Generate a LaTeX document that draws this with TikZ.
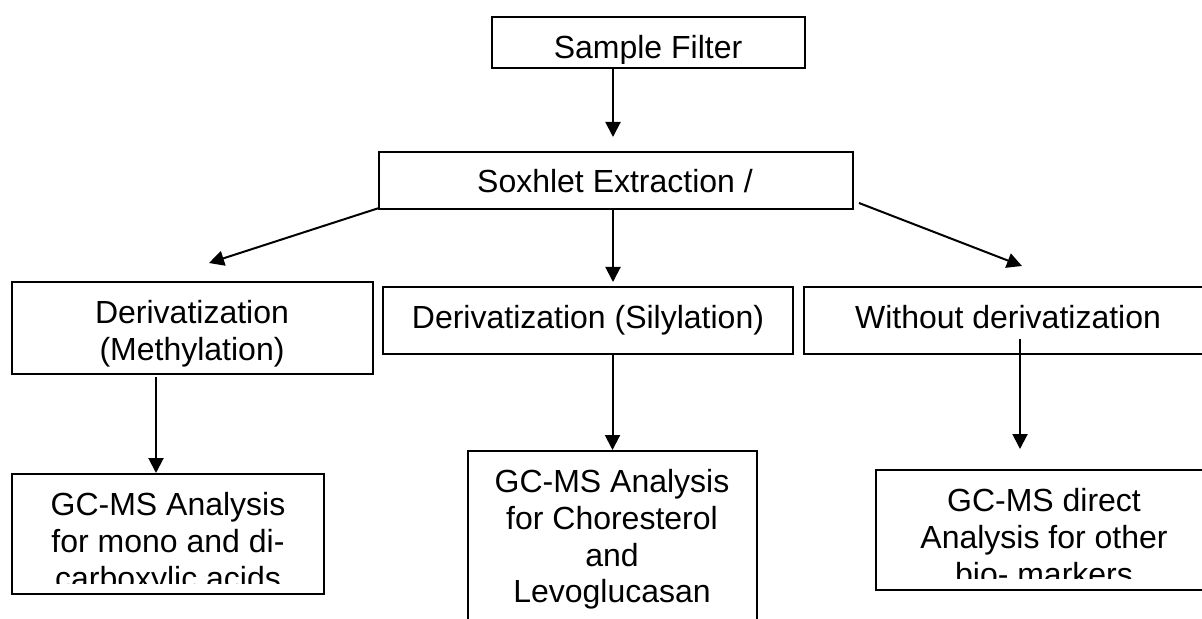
\documentclass[tikz,border=0pt]{standalone}
\usepackage{fontspec}
\setmainfont{Liberation Sans}
\usetikzlibrary{arrows.meta,positioning}
\newcommand\boxfont{\fontsize{16}{18.4}\selectfont}
\tikzstyle{block} = [rectangle,draw,line width=1pt,inner sep=0pt]
\tikzstyle{txt} = [font=\boxfont,align=center,inner sep=0pt,anchor=north,execute at begin node=\strut]
\tikzstyle{line} = [draw,line width=1pt,-{Triangle[width=7.5pt,length=7.5pt]}]

\begin{document}
\begin{tikzpicture}[x=0.5pt,y=-0.5pt]
            \clip (0,0) rectangle (1202,619);
            % boxes
            \node[block,minimum width=156.5pt,minimum height=25.5pt] (filter) at (648.5,42.5) {};
            \node[block,minimum width=237pt,minimum height=28.5pt] (sox) at (616,180.5) {};
            \node[block,minimum width=180.5pt,minimum height=46pt] (methyl) at (192.5,328) {};
            \node[block,minimum width=205pt,minimum height=33.5pt] (silyl) at (588,320.5) {};
            \node[block,minimum width=204pt,minimum height=33.5pt] (without) at (1008,320.5) {};
            \node[block,minimum width=156pt,minimum height=60pt] (mono) at (168,534) {};
            \node[block,minimum width=144.5pt,minimum height=94.5pt] (chol) at (612.5,545.5) {};
            \node[block,minimum width=168pt,minimum height=60pt] (other) at (1044,530) {};
            % texts
            \begin{scope}
                \clip (filter.north west) rectangle (805,64);
                \node[txt] (filter-t) at (648,32) {Sample Filter};
            \end{scope}
            \node[txt] (sox-t) at (615,166.2) {Soxhlet Extraction /};
            \node[txt] (methyl-t) at (192,300) {Derivatization\\(Methylation)};
            \node[txt] (silyl-t) at (588,302.2) {Derivatization (Silylation)};
            \node[txt] (without-t) at (1008,302.2) {Without derivatization};
            \begin{scope}
                \clip (mono.north west) rectangle (324,583);
                \node[txt] (mono-t) at (168,492) {GC-MS Analysis\\for mono and di-\\carboxylic acids};
            \end{scope}
            \node[txt] (chol-t) at (612,469) {GC-MS Analysis\\for Choresterol\\and\\Levoglucasan};
            \begin{scope}
                \clip (other.north west) rectangle (1212,578);
                \node[txt] (other-t) at (1044,488) {GC-MS direct\\Analysis for other\\bio- markers};
            \end{scope}
            % connectors
            \coordinate (tip-a) at (613,137);
            \coordinate (tip-l) at (209,263);
            \coordinate (tip-m) at (613,282);
            \coordinate (tip-r) at (1022,266);
            \coordinate (src-l) at (156,377);
            \coordinate (src-r) at (1020,339);
            \coordinate (tip-r2) at (1020,449);
            \path[line] (filter.south -| tip-a) -- (tip-a);
            \path[line] ([shift={(1,-2)}]sox.south west) -- (tip-l);
            \path[line] (sox.south -| tip-m) -- (tip-m);
            \path[line] ([shift={(5,-7)}]sox.south east) -- (tip-r);
            \path[line] (src-l) -- (mono.north -| src-l);
            \path[line] (silyl.south -| chol.north) -- (chol.north);
            \path[line] (src-r) -- (tip-r2);
        \end{tikzpicture}
\end{document}
